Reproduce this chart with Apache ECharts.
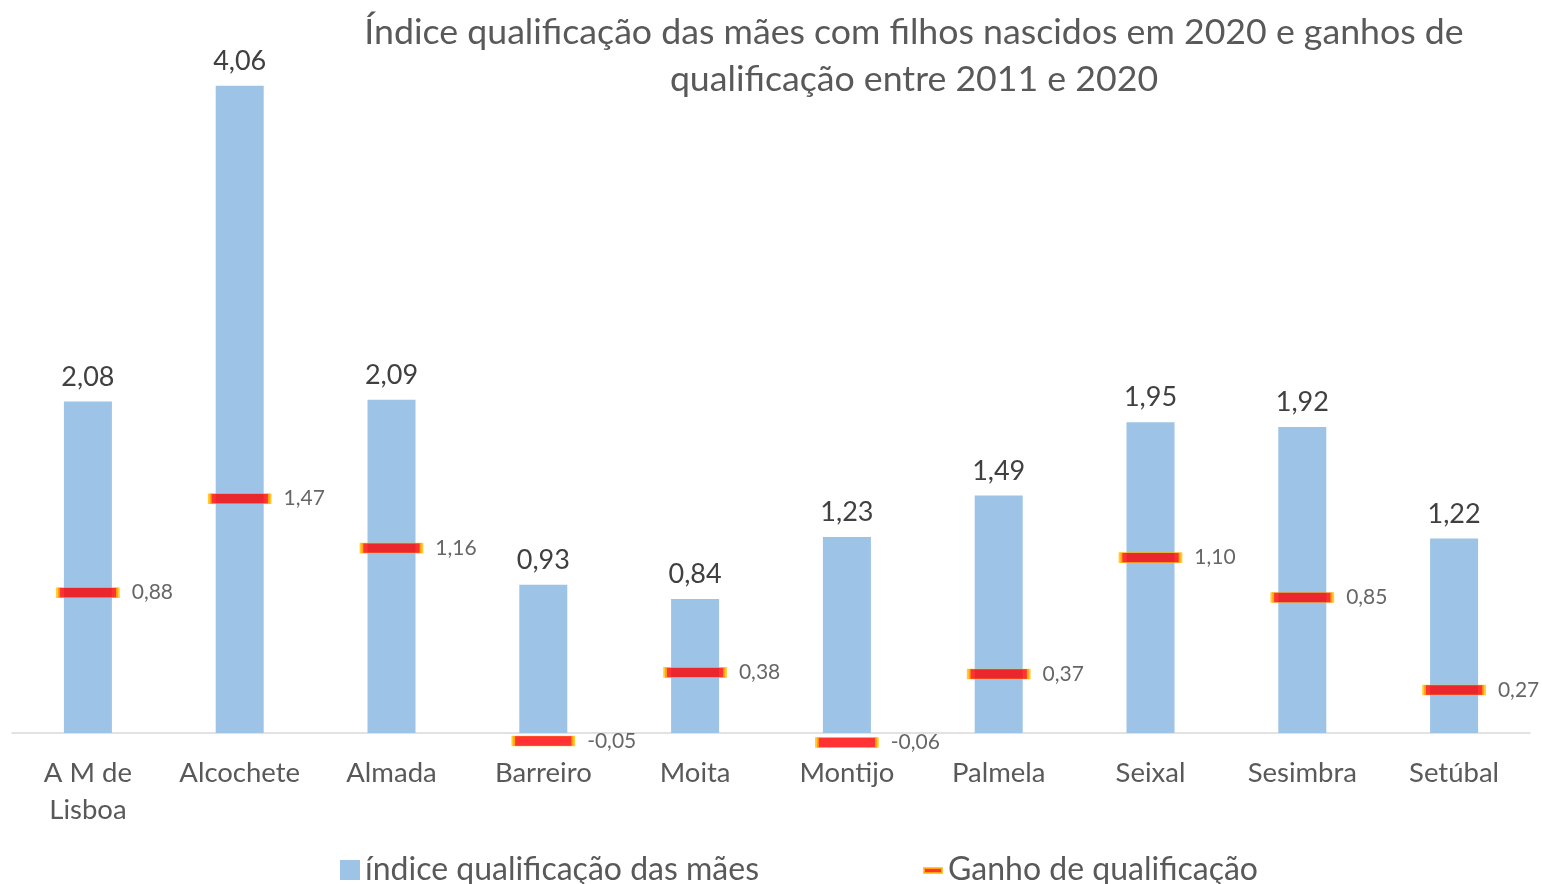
<!DOCTYPE html>
<html>
<head>
<meta charset="utf-8">
<script src="https://cdn.jsdelivr.net/npm/echarts@6/dist/echarts.min.js"></script>
<style>
html,body{margin:0;padding:0;background:#fff;}
#chart{width:1542px;height:884px;}
</style>
</head>
<body>
<div id="chart"></div>
<script>
// Municipalities of the Lisbon metropolitan area (south bank) plus the AML total
const categories = ['A M de\nLisboa', 'Alcochete', 'Almada', 'Barreiro', 'Moita', 'Montijo', 'Palmela', 'Seixal', 'Sesimbra', 'Setúbal'];
// Mothers' qualification index, children born in 2020
const indiceMaes = [2.08, 4.06, 2.09, 0.93, 0.84, 1.23, 1.49, 1.95, 1.92, 1.22];
// Qualification gain between 2011 and 2020
const ganhoQualificacao = [0.88, 1.47, 1.16, -0.05, 0.38, -0.06, 0.37, 1.10, 0.85, 0.27];

const seriesNames = ['índice qualificação das mães', 'Ganho de qualificação'];
const titleText = 'Índice qualificação das mães com filhos nascidos em 2020 e ganhos de\nqualificação entre 2011 e 2020';

const FONT = 'Lato, "Open Sans", sans-serif';
const fmt = v => v.toFixed(2).replace('.', ',');

const chart = echarts.init(document.getElementById('chart'), null, {renderer: 'canvas'});

chart.setOption({
  animation: false,
  backgroundColor: '#ffffff',
  title: {
    text: titleText,
    left: 909,
    top: 4,
    textAlign: 'center',
    textStyle: {
      fontFamily: FONT,
      fontSize: 35.7,
      fontWeight: 'normal',
      color: '#595959',
      lineHeight: 47
    }
  },
  legend: [
    {
      data: [{name: seriesNames[0], icon: 'rect'}],
      left: 335,
      top: 849,
      itemWidth: 20,
      itemHeight: 20,
      textStyle: {fontFamily: FONT, fontSize: 32, color: '#595959'}
    },
    {
      data: [{name: seriesNames[1], icon: 'path://M0,0 M0,8h18v5h-18z M18,20'}],
      left: 918,
      top: 849,
      itemWidth: 20,
      itemHeight: 20,
      textStyle: {fontFamily: FONT, fontSize: 32, color: '#595959'}
    }
  ],
  grid: {
    left: 12,
    right: 12,
    top: 15.7,
    bottom: 884 - 733,
    outerBoundsMode: 'none',
    containLabel: false
  },
  xAxis: {
    type: 'category',
    data: categories,
    axisLine: {lineStyle: {color: '#d9d9d9', width: 1.5}},
    axisTick: {show: false},
    axisLabel: {
      fontFamily: FONT,
      fontSize: 27.5,
      color: '#595959',
      margin: 22,
      lineHeight: 37,
      interval: 0
    }
  },
  yAxis: {
    type: 'value',
    min: 0,
    max: 4.5,
    interval: 0.5,
    show: false,
    splitLine: {show: false}
  },
  series: [
    {
      name: seriesNames[0],
      type: 'bar',
      data: indiceMaes,
      barWidth: 48,
      itemStyle: {color: '#9dc3e6'},
      label: {
        show: true,
        position: 'top',
        distance: 11,
        fontFamily: FONT,
        fontSize: 27,
        color: '#404040',
        formatter: p => fmt(p.value)
      }
    },
    {
      name: seriesNames[1],
      type: 'scatter',
      data: ganhoQualificacao,
      clip: false,
      symbol: 'rect',
      symbolSize: [60, 10],
      z: 5,
      itemStyle: {color: '#ff0000', borderColor: '#ffc000', borderWidth: 1.5},
      label: {
        show: true,
        position: 'right',
        distance: 12,
        fontFamily: FONT,
        fontSize: 21,
        color: '#404040',
        formatter: p => fmt(p.value)
      }
    }
  ]
});
</script>
</body>
</html>
